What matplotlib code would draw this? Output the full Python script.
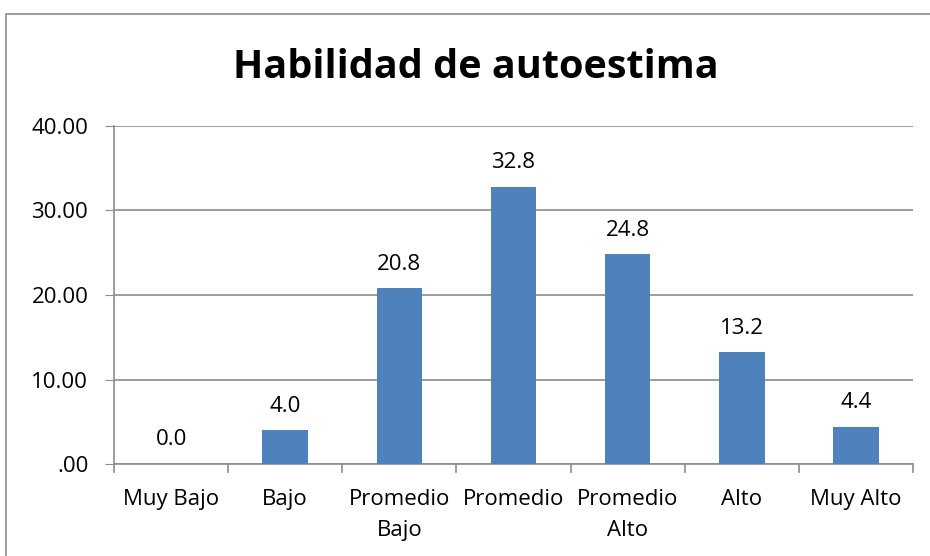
import matplotlib.pyplot as plt
from matplotlib.patches import Rectangle

categories = ["Muy Bajo", "Bajo", "Promedio\nBajo", "Promedio", "Promedio\nAlto", "Alto", "Muy Alto"]
values = [0.0, 4.0, 20.8, 32.8, 24.8, 13.2, 4.4]
yticks = [0, 10, 20, 30, 40]
ytick_labels = [".00", "10.00", "20.00", "30.00", "40.00"]

plt.rcParams['font.family'] = ['Open Sans', 'DejaVu Sans']

W, H = 930, 556
fig = plt.figure(figsize=(W / 100, H / 100), dpi=100)
ax = fig.add_axes([114 / W, 1 - 464 / H, (913 - 114) / W, (464 - 126) / H])

# outer chart border (runs off the bottom/right of the picture)
fig.patches.append(Rectangle((6 / W, -0.05), 1.0, 1 - 14 / H + 0.05,
                             transform=fig.transFigure, fill=False,
                             edgecolor="#8c8c8c", linewidth=1.2))

x = list(range(len(categories)))
ax.bar(x, values, width=0.4, color="#4F81BD", zorder=3)
for xi, v in zip(x, values):
    ax.text(xi, v + 1.6, f"{v:.1f}", ha="center", va="bottom", fontsize=16, color="black")

ax.set_xlim(-0.5, len(categories) - 0.5)
ax.set_ylim(0, 40)
ax.set_yticks(yticks)
ax.set_yticklabels(ytick_labels, fontsize=16)
ax.set_xticks(x)
ax.set_xticklabels(categories, fontsize=16, linespacing=1.65)
ax.tick_params(axis="x", length=0, pad=18)
ax.tick_params(axis="y", length=6.5, color="#8c8c8c", pad=12)

# category separator tick marks
for b in range(len(categories) + 1):
    ax.plot([b - 0.5, b - 0.5], [0, -0.95], color="#8c8c8c", lw=1.2, clip_on=False)

ax.grid(axis="y", color="#8c8c8c", linewidth=1.2, zorder=0)
for s in ["top", "right"]:
    ax.spines[s].set_visible(False)
for s in ["left", "bottom"]:
    ax.spines[s].set_color("#8c8c8c")
    ax.spines[s].set_linewidth(1.2)

fig.text(476 / W, 1 - 68 / H, "Habilidad de autoestima", ha="center", va="center",
         fontsize=28.5, fontweight="bold")

fig.savefig("out.png", dpi=100)
